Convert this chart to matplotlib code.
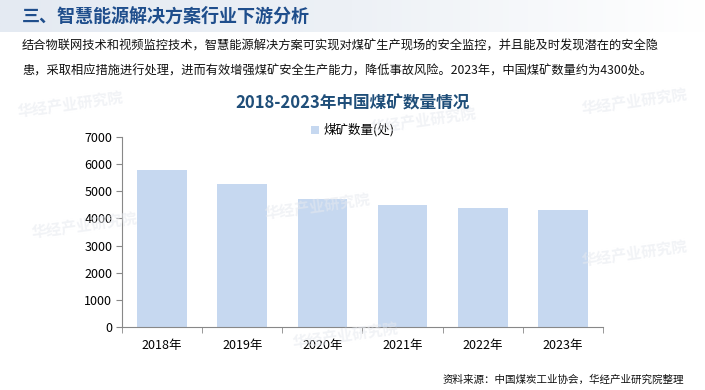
import numpy as np
import matplotlib.pyplot as plt
from matplotlib.colors import LinearSegmentedColormap

plt.rcParams['font.family'] = ['Noto Sans CJK SC', 'DejaVu Sans']

# 数据
years = ['2018年', '2019年', '2020年', '2021年', '2022年', '2023年']
mines = [5800, 5270, 4700, 4500, 4400, 4300]
yticks = [0, 1000, 2000, 3000, 4000, 5000, 6000, 7000]

header = '三、智慧能源解决方案行业下游分析'
para1 = '结合物联网技术和视频监控技术，智慧能源解决方案可实现对煤矿生产现场的安全监控，并且能及时发现潜在的安全隐'
para2 = '患，采取相应措施进行处理，进而有效增强煤矿安全生产能力，降低事故风险。2023年，中国煤矿数量约为4300处。'
chart_title = '2018-2023年中国煤矿数量情况'
legend_label = '煤矿数量(处)'
source = '资料来源：中国煤炭工业协会，华经产业研究院整理'

fig = plt.figure(figsize=(7.05, 3.9), dpi=100)

# 顶部标题栏渐变
bg = fig.add_axes([0, 1 - 32 / 390, 1, 32 / 390])
grad = np.linspace(0, 1, 256).reshape(1, -1)
cmap = LinearSegmentedColormap.from_list('hdr', ['#e4eaf2', '#edf1f6', '#ffffff'])
bg.imshow(grad, aspect='auto', cmap=cmap, extent=[0, 1, 0, 1])
bg.axis('off')

fig.text(22 / 705, 1 - 16 / 390, header, fontsize=13, fontweight='bold',
         color='#1f4e8c', va='center', ha='left')
fig.text(22 / 705, 1 - 46 / 390, para1, fontsize=8.8, color='#111111', va='center', ha='left')
fig.text(22 / 705, 1 - 71 / 390, para2, fontsize=8.8, color='#111111', va='center', ha='left')
fig.text(353 / 705, 1 - 103 / 390, chart_title, fontsize=12, fontweight='bold',
         color='#1f4e79', va='center', ha='center')

# 水印
for (wx, wy) in [(0.1, 0.73), (0.45, 0.47), (0.6, 0.69), (0.9, 0.74), (0.12, 0.42), (0.49, 0.14), (0.9, 0.35)]:
    fig.text(wx, wy, '华经产业研究院', fontsize=11, color='#e6e9ef', alpha=0.55,
             rotation=8, ha='center', va='center', fontweight='bold')

ax = fig.add_axes([122 / 705, 1 - 327 / 390, (603 - 122) / 705, (327 - 137) / 390])
ax.patch.set_alpha(0)
x = np.arange(len(years))
ax.bar(x, mines, width=0.62, color='#c6d8f0', label=legend_label)
ax.set_xlim(-0.5, len(years) - 0.5)
ax.set_ylim(0, 7000)
ax.set_yticks(yticks)
ax.set_yticklabels([str(v) for v in yticks], fontsize=9)
ax.set_xticks(x)
ax.set_xticklabels(years, fontsize=9)
ax.set_xticks(np.arange(-0.5, len(years), 1), minor=True)
ax.tick_params(axis='x', which='major', length=0, pad=9)
ax.tick_params(axis='x', which='minor', length=4, color='#888888', direction='out')
ax.tick_params(axis='y', length=4, color='#888888', direction='out', pad=3)
for s in ['top', 'right']:
    ax.spines[s].set_visible(False)
ax.spines['left'].set_color('#888888')
ax.spines['bottom'].set_color('#888888')

ax.legend(loc='upper center', bbox_to_anchor=(0.48, 1.13), frameon=False,
          fontsize=9, handlelength=0.6, handleheight=0.6, handletextpad=0.4)

fig.text(443 / 705, 1 - 380 / 390, source, fontsize=7.6, color='#111111', va='center', ha='left')

fig.savefig('out.png', dpi=100)
